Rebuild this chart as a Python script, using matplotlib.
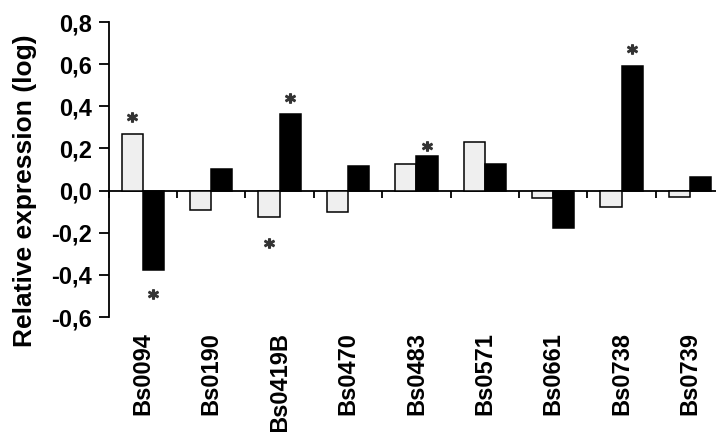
import numpy as np
import matplotlib
matplotlib.use("Agg")
import matplotlib.pyplot as plt

# ---- data ----
genes = ["Bs0094", "Bs0190", "Bs0419B", "Bs0470", "Bs0483",
         "Bs0571", "Bs0661", "Bs0738", "Bs0739"]
white_vals = [0.27, -0.09, -0.125, -0.10, 0.125, 0.23, -0.033, -0.08, -0.03]
black_vals = [-0.375, 0.105, 0.365, 0.115, 0.162, 0.128, -0.176, 0.59, 0.067]
# asterisk heights (None = no asterisk)
white_stars = [0.35, None, -0.25, None, None, None, None, None, None]
black_stars = [-0.49, None, 0.44, None, 0.21, None, None, 0.67, None]
yticks = [-0.6, -0.4, -0.2, 0.0, 0.2, 0.4, 0.6, 0.8]

plt.rcParams['font.family'] = ['Liberation Sans', 'DejaVu Sans']
plt.rcParams['font.weight'] = 'bold'

fig = plt.figure(figsize=(7.16, 4.32), dpi=100)
ax = fig.add_axes([0.1517, 0.266, 0.8483, 0.683])

x = np.arange(len(genes))
w = 0.31
ax.bar(x - w / 2, white_vals, w, color='#efefef', edgecolor='black', linewidth=1.1, zorder=2)
ax.bar(x + w / 2, black_vals, w, color='black', edgecolor='black', linewidth=1.1, zorder=2)

for i in range(len(genes)):
    if white_stars[i] is not None:
        ax.plot(x[i] - w / 2, white_stars[i], marker='$*$', ms=7, color='#333333',
                linestyle='none', zorder=3)
    if black_stars[i] is not None:
        ax.plot(x[i] + w / 2, black_stars[i], marker='$*$', ms=7, color='#333333',
                linestyle='none', zorder=3)

ax.set_ylim(-0.6, 0.8)
ax.set_xlim(-0.5, -0.5 + (716 - 108.6) / 68.4)
ax.set_yticks(yticks)
ax.set_yticklabels([f"{v:.1f}".replace('.', ',') for v in yticks], fontsize=17)
ax.tick_params(axis='y', direction='out', length=7, width=1.3, pad=5)

ax.set_xticks(x)
ax.set_xticklabels(genes, rotation=90, fontsize=17, va='top')
ax.tick_params(axis='x', length=0, pad=11)

for s in ['top', 'right', 'bottom']:
    ax.spines[s].set_visible(False)
ax.spines['left'].set_linewidth(1.3)

# zero line with group separator ticks
zero_loc = (0 - (-0.6)) / 1.4
sec = ax.secondary_xaxis(zero_loc)
sec.set_xticks(np.arange(len(genes) + 1) - 0.5)
sec.set_xticklabels([])
sec.tick_params(direction='out', length=5, width=1.3)
sec.spines['bottom'].set_linewidth(1.3)

ax.set_ylabel("Relative expression (log)", fontsize=19, fontweight='bold')
ax.yaxis.set_label_coords(-0.118, 0.43)

fig.savefig("out.png", dpi=100)
